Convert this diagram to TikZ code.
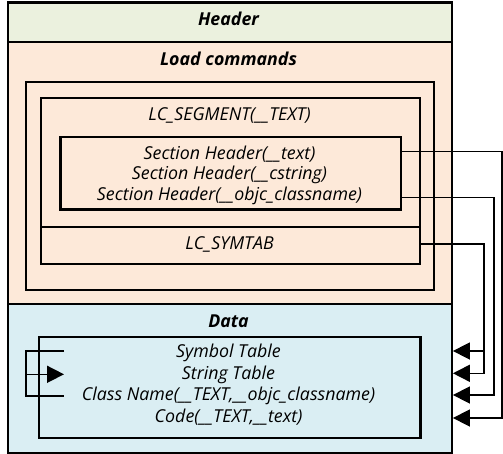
\documentclass[tikz,border=0pt]{standalone}
\usepackage{fontspec}
\setmainfont{Open Sans}
\usetikzlibrary{arrows.meta}
\definecolor{hdrfill}{HTML}{EBF1DE}
\definecolor{lcfill}{HTML}{FDE9D9}
\definecolor{datfill}{HTML}{DAEEF3}
\begin{document}
\begin{tikzpicture}[x=1pt,y=-1pt,
  frame/.style={draw=black,line width=2.4pt,rectangle,inner sep=0pt,anchor=north west},
  conn/.style={draw=black,line width=1.6pt},
  tip/.style={-{Triangle[length=17pt,width=17pt]}},
  txt/.style={font=\itshape\fontsize{17.8}{20}\selectfont,inner sep=0pt},
  ttl/.style={font=\bfseries\itshape\fontsize{17.8}{20}\selectfont,inner sep=0pt}]
\useasboundingbox (0,0) rectangle (503,454);

% file regions
\node[frame,fill=hdrfill,minimum width=444pt,minimum height=39.2pt] (header) at (6.5,1.5) {};
\node[frame,fill=lcfill,minimum width=444pt,minimum height=262pt] (load) at (6.5,40.7) {};
\node[frame,fill=datfill,minimum width=444pt,minimum height=148.8pt] (data) at (6.5,302.7) {};

% load commands
\node[frame,minimum width=407.7pt,minimum height=208pt] (lcs) at (25,81) {};
\node[frame,minimum width=379pt,minimum height=129pt] (seg) at (40,96.7) {};
\node[frame,minimum width=340.4pt,minimum height=72.3pt] (sec) at (59.3,136) {};
\node[frame,minimum width=379pt,minimum height=37pt] (symtab) at (40,225.7) {};

% data contents
\node[frame,minimum width=381.6pt,minimum height=101pt] (tbl) at (37.7,335.7) {};

% labels
\node[ttl] (tHeader) at (228.5,19) {Header};
\node[ttl] (tLoad) at (228.5,59) {Load commands};
\node[txt] (tSeg) at (229.5,115) {LC\_SEGMENT(\_\_TEXT)};
\node[txt] (tS1) at (229.5,154) {Section Header(\_\_text)};
\node[txt] (tS2) at (229.5,175) {Section Header(\_\_cstring)};
\node[txt] (tS3) at (229.5,196) {Section Header(\_\_objc\_classname)};
\node[txt] (tSym) at (229.5,244) {LC\_SYMTAB};
\node[ttl] (tData) at (228.5,321.7) {Data};
\node[txt] (tD1) at (228.5,353.3) {Symbol Table};
\node[txt] (tD2) at (228.5,375) {String Table};
\node[txt] (tD3) at (228.5,396) {Class Name(\_\_TEXT,\_\_objc\_classname)};
\node[txt] (tD4) at (228.5,417.3) {Code(\_\_TEXT,\_\_text)};

% routing points
\coordinate (a1) at (502,151.7);
\coordinate (a2) at (502,418);
\coordinate (b1) at (494,197.7);
\coordinate (b2) at (494,395);
\coordinate (c1) at (484,244);
\coordinate (c2) at (484,351);
\coordinate (c3) at (484,373.3);

% section headers / symtab to data
\draw[conn,tip] (sec.east |- a1) -- (a1) -- (a2) -- (data.east |- a2);
\draw[conn,tip] (sec.east |- b1) -- (b1) -- (b2) -- (data.east |- b2);
\draw[conn,tip] (symtab.east |- c1) -- (c1) -- (c3) -- (data.east |- c3);
\draw[conn,tip] (c2) -- (data.east |- c2);

% internal references inside data
\coordinate (l1) at (26,351);
\coordinate (l2) at (26,396);
\coordinate (lm) at (26,374.3);
\coordinate (r1) at (64,351);
\coordinate (r2) at (64,396);
\coordinate (rm) at (64,374.3);
\draw[conn] (r1) -- (l1) -- (l2) -- (r2);
\draw[conn,tip] (lm) -- (rm);
\end{tikzpicture}
\end{document}
